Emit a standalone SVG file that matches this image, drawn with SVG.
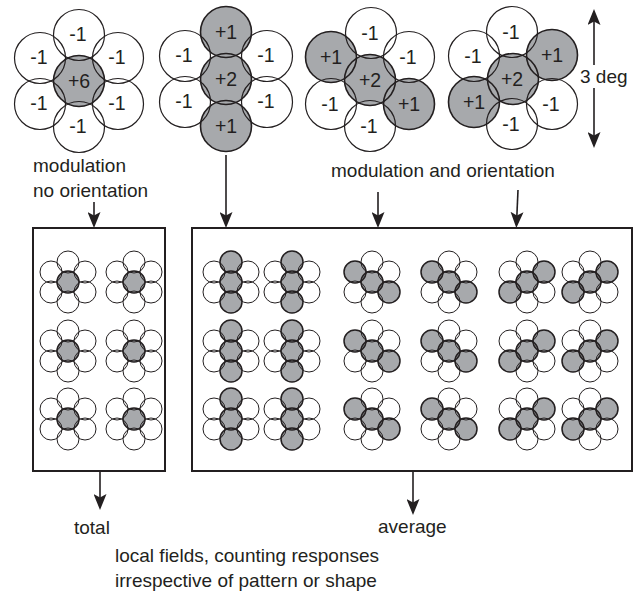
<svg xmlns="http://www.w3.org/2000/svg" xmlns:xlink="http://www.w3.org/1999/xlink" width="638" height="593" viewBox="0 0 638 593">
  <defs>
    <style>
      text { font-family: "Liberation Sans", Arial, Helvetica, sans-serif; font-size: 19px; fill: #231f20; }
      .lab { text-anchor: middle; font-size: 19.5px; }
      .fill .w { fill: #ffffff; stroke: none; }
      .fill .g { fill: #a7a9ac; stroke: none; }
      .line circle { fill: none; stroke: #231f20; }
      .line .w { stroke-width: 1.2; }
      .line .g { stroke-width: 1.6; }
      .small .line .w { stroke-width: 1; }
      .small .line .g { stroke-width: 1.5; }
      .box { fill: none; stroke: #231f20; stroke-width: 2; }
      .conn line { stroke: #231f20; stroke-width: 1.6; marker-end: url(#ah); }
    </style>
    <marker id="ah" markerUnits="userSpaceOnUse" viewBox="0 0 16 13" markerWidth="16" markerHeight="13" refX="12" refY="6.5" orient="auto">
      <path d="M0,0 L16,6.5 L0,13 L3.5,6.5 Z" fill="#231f20"/>
    </marker>

    <!-- small flower: centre only -->
    <g id="sA" class="small">
      <g class="fill">
        <circle class="w" cx="0" cy="-20" r="11"/><circle class="w" cx="17" cy="-10" r="11"/>
        <circle class="w" cx="17" cy="10" r="11"/><circle class="w" cx="0" cy="20" r="11"/>
        <circle class="w" cx="-17" cy="10" r="11"/><circle class="w" cx="-17" cy="-10" r="11"/>
        <circle class="g" cx="0" cy="0" r="11"/>
      </g>
      <g class="line">
        <circle class="w" cx="0" cy="-20" r="11"/><circle class="w" cx="17" cy="-10" r="11"/>
        <circle class="w" cx="17" cy="10" r="11"/><circle class="w" cx="0" cy="20" r="11"/>
        <circle class="w" cx="-17" cy="10" r="11"/><circle class="w" cx="-17" cy="-10" r="11"/>
        <circle class="g" cx="0" cy="0" r="11"/>
      </g>
    </g>
    <!-- small flower: vertical bar -->
    <g id="sB" class="small">
      <g class="fill">
        <circle class="w" cx="17" cy="-10" r="11"/><circle class="w" cx="17" cy="10" r="11"/>
        <circle class="w" cx="-17" cy="10" r="11"/><circle class="w" cx="-17" cy="-10" r="11"/>
        <circle class="g" cx="0" cy="0" r="11"/><circle class="g" cx="0" cy="-20" r="11"/>
        <circle class="g" cx="0" cy="20" r="11"/>
      </g>
      <g class="line">
        <circle class="w" cx="17" cy="-10" r="11"/><circle class="w" cx="17" cy="10" r="11"/>
        <circle class="w" cx="-17" cy="10" r="11"/><circle class="w" cx="-17" cy="-10" r="11"/>
        <circle class="g" cx="0" cy="0" r="11"/><circle class="g" cx="0" cy="-20" r="11"/>
        <circle class="g" cx="0" cy="20" r="11"/>
      </g>
    </g>
    <!-- small flower: oblique bar, upper left to lower right -->
    <g id="sC" class="small">
      <g class="fill">
        <circle class="w" cx="0" cy="-20" r="11"/><circle class="w" cx="17" cy="-10" r="11"/>
        <circle class="w" cx="0" cy="20" r="11"/><circle class="w" cx="-17" cy="10" r="11"/>
        <circle class="g" cx="0" cy="0" r="11"/><circle class="g" cx="-17" cy="-10" r="11"/>
        <circle class="g" cx="17" cy="10" r="11"/>
      </g>
      <g class="line">
        <circle class="w" cx="0" cy="-20" r="11"/><circle class="w" cx="17" cy="-10" r="11"/>
        <circle class="w" cx="0" cy="20" r="11"/><circle class="w" cx="-17" cy="10" r="11"/>
        <circle class="g" cx="0" cy="0" r="11"/><circle class="g" cx="-17" cy="-10" r="11"/>
        <circle class="g" cx="17" cy="10" r="11"/>
      </g>
    </g>
    <!-- small flower: oblique bar, lower left to upper right -->
    <g id="sD" class="small">
      <g class="fill">
        <circle class="w" cx="0" cy="-20" r="11"/><circle class="w" cx="-17" cy="-10" r="11"/>
        <circle class="w" cx="0" cy="20" r="11"/><circle class="w" cx="17" cy="10" r="11"/>
        <circle class="g" cx="0" cy="0" r="11"/><circle class="g" cx="17" cy="-10" r="11"/>
        <circle class="g" cx="-17" cy="10" r="11"/>
      </g>
      <g class="line">
        <circle class="w" cx="0" cy="-20" r="11"/><circle class="w" cx="-17" cy="-10" r="11"/>
        <circle class="w" cx="0" cy="20" r="11"/><circle class="w" cx="17" cy="10" r="11"/>
        <circle class="g" cx="0" cy="0" r="11"/><circle class="g" cx="17" cy="-10" r="11"/>
        <circle class="g" cx="-17" cy="10" r="11"/>
      </g>
    </g>
  </defs>

  <rect width="638" height="593" fill="#ffffff"/>

  <!-- large field 1: +6 centre, six -1 surround -->
  <g id="field-center">
    <g class="fill">
      <circle class="w" cx="79" cy="35" r="25.5"/><circle class="w" cx="118" cy="58" r="25.5"/>
      <circle class="w" cx="118" cy="104" r="25.5"/><circle class="w" cx="79" cy="127" r="25.5"/>
      <circle class="w" cx="40" cy="104" r="25.5"/><circle class="w" cx="40" cy="58" r="25.5"/>
      <circle class="g" cx="79" cy="81" r="25.5"/>
    </g>
    <g class="line">
      <circle class="w" cx="79" cy="35" r="25.5"/><circle class="w" cx="118" cy="58" r="25.5"/>
      <circle class="w" cx="118" cy="104" r="25.5"/><circle class="w" cx="79" cy="127" r="25.5"/>
      <circle class="w" cx="40" cy="104" r="25.5"/><circle class="w" cx="40" cy="58" r="25.5"/>
      <circle class="g" cx="79" cy="81" r="25.5"/>
    </g>
    <text class="lab" x="78" y="41">-1</text><text class="lab" x="117" y="64">-1</text>
    <text class="lab" x="117" y="110">-1</text><text class="lab" x="78" y="133">-1</text>
    <text class="lab" x="39" y="110">-1</text><text class="lab" x="39" y="64">-1</text>
    <text class="lab" x="79" y="88">+6</text>
  </g>

  <!-- large field 2: vertical -->
  <g id="field-vertical">
    <g class="fill">
      <circle class="w" cx="267" cy="56" r="25.5"/><circle class="w" cx="267" cy="102" r="25.5"/>
      <circle class="w" cx="185" cy="102" r="25.5"/><circle class="w" cx="185" cy="56" r="25.5"/>
      <circle class="g" cx="226" cy="79" r="25.5"/><circle class="g" cx="226" cy="32" r="25.5"/>
      <circle class="g" cx="226" cy="126" r="25.5"/>
    </g>
    <g class="line">
      <circle class="w" cx="267" cy="56" r="25.5"/><circle class="w" cx="267" cy="102" r="25.5"/>
      <circle class="w" cx="185" cy="102" r="25.5"/><circle class="w" cx="185" cy="56" r="25.5"/>
      <circle class="g" cx="226" cy="79" r="25.5"/><circle class="g" cx="226" cy="32" r="25.5"/>
      <circle class="g" cx="226" cy="126" r="25.5"/>
    </g>
    <text class="lab" x="266" y="62">-1</text><text class="lab" x="266" y="108">-1</text>
    <text class="lab" x="184" y="108">-1</text><text class="lab" x="184" y="62">-1</text>
    <text class="lab" x="226" y="39">+1</text><text class="lab" x="226" y="86">+2</text>
    <text class="lab" x="226" y="133">+1</text>
  </g>

  <!-- large field 3: oblique, upper left to lower right -->
  <g id="field-oblique-left">
    <g class="fill">
      <circle class="w" cx="371" cy="33" r="25.5"/><circle class="w" cx="409" cy="57" r="25.5"/>
      <circle class="w" cx="370" cy="126" r="25.5"/><circle class="w" cx="331" cy="104" r="25.5"/>
      <circle class="g" cx="370" cy="80" r="25.5"/><circle class="g" cx="331" cy="57" r="25.5"/>
      <circle class="g" cx="409" cy="104" r="25.5"/>
    </g>
    <g class="line">
      <circle class="w" cx="371" cy="33" r="25.5"/><circle class="w" cx="409" cy="57" r="25.5"/>
      <circle class="w" cx="370" cy="126" r="25.5"/><circle class="w" cx="331" cy="104" r="25.5"/>
      <circle class="g" cx="370" cy="80" r="25.5"/><circle class="g" cx="331" cy="57" r="25.5"/>
      <circle class="g" cx="409" cy="104" r="25.5"/>
    </g>
    <text class="lab" x="370" y="40">-1</text><text class="lab" x="408" y="64">-1</text>
    <text class="lab" x="369" y="133">-1</text><text class="lab" x="330" y="111">-1</text>
    <text class="lab" x="370" y="87">+2</text><text class="lab" x="331" y="64">+1</text>
    <text class="lab" x="409" y="111">+1</text>
  </g>

  <!-- large field 4: oblique, lower left to upper right -->
  <g id="field-oblique-right">
    <g class="fill">
      <circle class="w" cx="512" cy="32" r="25.5"/><circle class="w" cx="474" cy="56" r="25.5"/>
      <circle class="w" cx="512" cy="124" r="25.5"/><circle class="w" cx="552" cy="104" r="25.5"/>
      <circle class="g" cx="513" cy="79" r="25.5"/><circle class="g" cx="552" cy="55" r="25.5"/>
      <circle class="g" cx="474" cy="102" r="25.5"/>
    </g>
    <g class="line">
      <circle class="w" cx="512" cy="32" r="25.5"/><circle class="w" cx="474" cy="56" r="25.5"/>
      <circle class="w" cx="512" cy="124" r="25.5"/><circle class="w" cx="552" cy="104" r="25.5"/>
      <circle class="g" cx="513" cy="79" r="25.5"/><circle class="g" cx="552" cy="55" r="25.5"/>
      <circle class="g" cx="474" cy="102" r="25.5"/>
    </g>
    <text class="lab" x="511" y="39">-1</text><text class="lab" x="473" y="63">-1</text>
    <text class="lab" x="511" y="131">-1</text><text class="lab" x="551" y="111">-1</text>
    <text class="lab" x="512" y="86">+2</text><text class="lab" x="552" y="62">+1</text>
    <text class="lab" x="474" y="109">+1</text>
  </g>

  <!-- scale bar -->
  <g id="scale">
    <text x="580" y="83">3 deg</text>
  </g>

  <!-- captions -->
  <g id="captions">
    <text x="33" y="172">modulation</text>
    <text x="33" y="197">no orientation</text>
    <text x="331" y="177">modulation and orientation</text>
    <text x="74" y="534">total</text>
    <text x="378" y="533">average</text>
    <text x="115" y="562">local fields, counting responses</text>
    <text x="115" y="587">irrespective of pattern or shape</text>
  </g>

  <!-- left panel: centre-only fields -->
  <g id="panel-total">
    <rect class="box" x="33" y="228" width="132" height="243"/>
    <use xlink:href="#sA" href="#sA" x="68" y="282"/>
    <use xlink:href="#sA" href="#sA" x="134" y="282"/>
    <use xlink:href="#sA" href="#sA" x="68" y="351"/>
    <use xlink:href="#sA" href="#sA" x="134" y="351"/>
    <use xlink:href="#sA" href="#sA" x="68" y="419"/>
    <use xlink:href="#sA" href="#sA" x="134" y="419"/>
  </g>

  <!-- right panel: oriented fields -->
  <g id="panel-average">
    <rect class="box" x="192" y="228" width="440" height="243"/>
    <use href="#sB" x="231" y="282"/><use href="#sB" x="292" y="282"/>
    <use href="#sC" x="372" y="282"/><use href="#sC" x="449" y="282"/>
    <use href="#sD" x="527" y="282"/><use href="#sD" x="590" y="282"/>
    <use href="#sB" x="231" y="351"/><use href="#sB" x="292" y="351"/>
    <use href="#sC" x="372" y="351"/><use href="#sC" x="449" y="351"/>
    <use href="#sD" x="527" y="351"/><use href="#sD" x="590" y="351"/>
    <use href="#sB" x="231" y="419"/><use href="#sB" x="292" y="419"/>
    <use href="#sC" x="372" y="419"/><use href="#sC" x="449" y="419"/>
    <use href="#sD" x="527" y="419"/><use href="#sD" x="590" y="419"/>
  </g>

  <!-- connectors -->
  <g id="connectors" class="conn">
    <line x1="94" y1="202" x2="94" y2="224"/>
    <line x1="226" y1="155" x2="226" y2="224"/>
    <line x1="378" y1="192" x2="378" y2="224"/>
    <line x1="518" y1="190" x2="516.5" y2="224"/>
    <line x1="100" y1="472" x2="100" y2="506"/>
    <line x1="413" y1="472" x2="413" y2="511"/>
    <line x1="594" y1="65" x2="594" y2="13"/>
    <line x1="594" y1="88" x2="594" y2="144"/>
  </g>
</svg>
